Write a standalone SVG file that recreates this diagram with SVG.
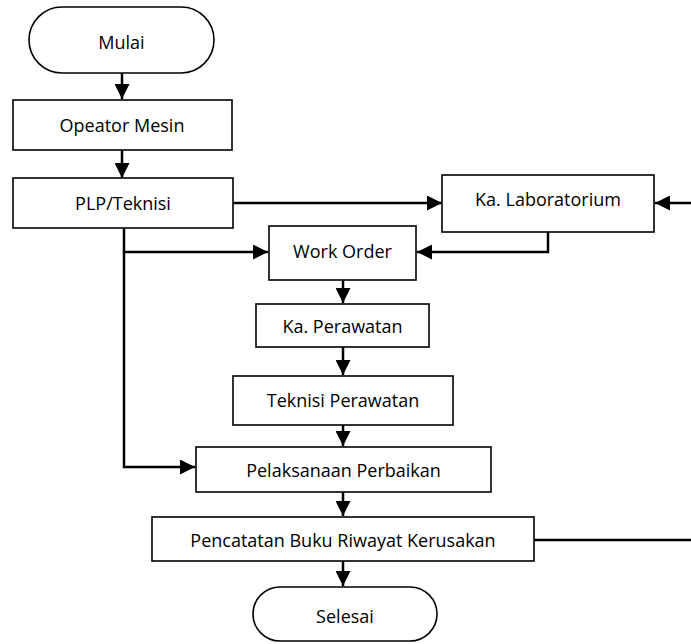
<svg xmlns="http://www.w3.org/2000/svg" width="691" height="644" viewBox="0 0 691 644">
<style>
.box{fill:#fff;stroke:#000;stroke-width:1.6}
.lbl{font-family:"Open Sans","Noto Sans",sans-serif;font-size:18px;fill:#000;text-anchor:middle;dominant-baseline:central}
.con{fill:none;stroke:#000;stroke-width:2.5}
</style>
<defs>
<marker id="ah" markerUnits="userSpaceOnUse" markerWidth="15" markerHeight="15" refX="15" refY="7.5" orient="auto">
<path d="M0,0 L15,7.5 L0,15 z" fill="#000"/>
</marker>
</defs>
<rect width="691" height="644" fill="#fff"/>
<g id="connectors">
<path class="con" d="M122,73 V99" marker-end="url(#ah)"/>
<path class="con" d="M122,150 V178" marker-end="url(#ah)"/>
<path class="con" d="M233,203 H442" marker-end="url(#ah)"/>
<path class="con" d="M691,203 H655" marker-end="url(#ah)"/>
<path class="con" d="M548,232 V252 H417" marker-end="url(#ah)"/>
<path class="con" d="M124,228 V252 H268" marker-end="url(#ah)"/>
<path class="con" d="M124,252 V467 H195" marker-end="url(#ah)"/>
<path class="con" d="M343,280 V303" marker-end="url(#ah)"/>
<path class="con" d="M343,347 V375" marker-end="url(#ah)"/>
<path class="con" d="M343,425 V446" marker-end="url(#ah)"/>
<path class="con" d="M343,492 V516" marker-end="url(#ah)"/>
<path class="con" d="M343,561 V586" marker-end="url(#ah)"/>
<path class="con" d="M534,540 H691"/>
</g>
<g id="mulai"><rect class="box" x="29" y="7" width="185" height="66" rx="33"/><text class="lbl" x="121.5" y="42">Mulai</text></g>
<g id="operator"><rect class="box" x="13" y="100" width="219" height="50"/><text class="lbl" x="122" y="125">Opeator Mesin</text></g>
<g id="plp"><rect class="box" x="13" y="178" width="220" height="50"/><text class="lbl" x="123" y="203">PLP/Teknisi</text></g>
<g id="kalab"><rect class="box" x="442" y="175" width="212" height="57"/><text class="lbl" x="548" y="199">Ka. Laboratorium</text></g>
<g id="workorder"><rect class="box" x="269" y="226" width="147" height="54"/><text class="lbl" x="342.5" y="251">Work Order</text></g>
<g id="kaperawatan"><rect class="box" x="256" y="304" width="173" height="43"/><text class="lbl" x="342.5" y="326">Ka. Perawatan</text></g>
<g id="teknisi"><rect class="box" x="233" y="376" width="220" height="49"/><text class="lbl" x="343" y="400">Teknisi Perawatan</text></g>
<g id="pelaksanaan"><rect class="box" x="196" y="447" width="295" height="45"/><text class="lbl" x="343.5" y="470">Pelaksanaan Perbaikan</text></g>
<g id="pencatatan"><rect class="box" x="152" y="517" width="382" height="44"/><text class="lbl" x="343" y="540">Pencatatan Buku Riwayat Kerusakan</text></g>
<g id="selesai"><rect class="box" x="253" y="587" width="184" height="54" rx="27"/><text class="lbl" x="345" y="616">Selesai</text></g>
</svg>
